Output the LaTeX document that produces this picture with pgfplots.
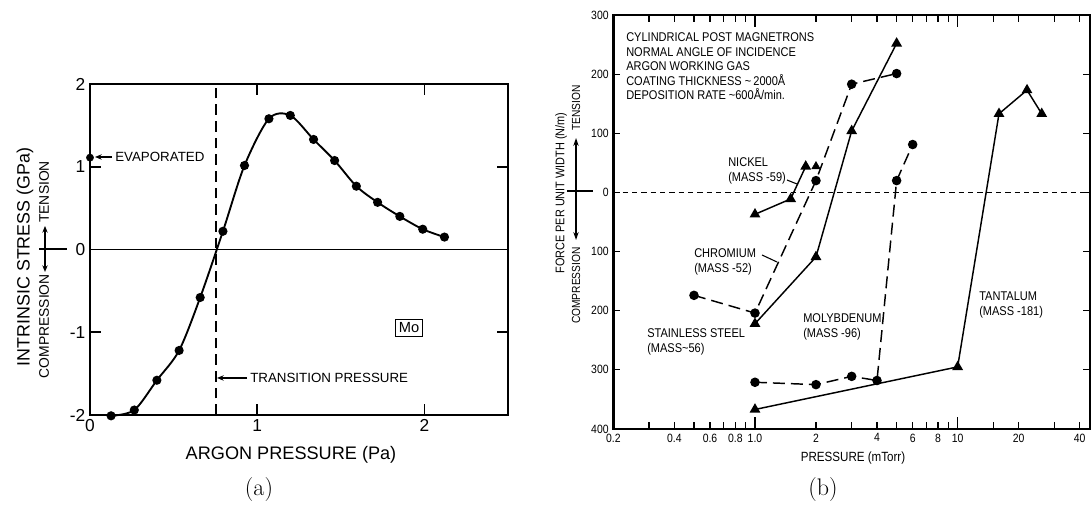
\documentclass[border=0pt]{standalone}
\usepackage{fontspec}
\usepackage{pgfplots}
\pgfplotsset{compat=1.18}
\usetikzlibrary{arrows.meta}
\newfontfamily\hv{Liberation Sans}
\newfontfamily\hvn[FakeStretch=0.87]{Liberation Sans}
\begin{document}
\begin{tikzpicture}
% ---------------- (a) ----------------
\begin{axis}[
  at={(67.5pt,70.5pt)}, anchor=south west, scale only axis,
  width=313.5pt, height=248.25pt,
  xmin=0, xmax=2.5, ymin=-2, ymax=2,
  xtick={0,1,2}, xticklabels={0,1,2},
  ytick={-2,-1,0,1,2}, yticklabels={-2,-1,0,1,2},
  tick align=inside, major tick length=8pt,
  axis line style={line width=1.5pt},
  every tick/.style={black, line width=1.3pt},
  ticklabel style={font=\hv\fontsize{13}{15}\selectfont},
  clip=false,
]
\addplot[black, line width=0.8pt] coordinates {(0,0) (2.5,0)};
\addplot[black, line width=1.2pt, dash pattern=on 8pt off 4.5pt] coordinates {(0.755,-2) (0.755,2)};
\addplot[black, line width=1.4pt, smooth, mark=*, mark size=2.7pt] coordinates {
(0.126,-2.01) (0.265,-1.94) (0.40,-1.58) (0.533,-1.22) (0.659,-0.58) (0.795,0.22)
(0.924,1.015) (1.07,1.58) (1.198,1.62) (1.337,1.33) (1.463,1.075) (1.593,0.765)
(1.72,0.57) (1.853,0.40) (1.99,0.245) (2.12,0.15)};
\addplot[black, only marks, mark=*, mark size=2.7pt] coordinates {(0,1.11)};
\end{axis}
% ---------------- (b) ----------------
\begin{axis}[
  at={(460pt,60pt)}, anchor=south west, scale only axis,
  width=357.5pt, height=310.5pt,
  xmode=log, xmin=0.2, xmax=45, ymin=-400, ymax=300,
  xtick={0.2,0.4,0.6,0.8,1,2,4,6,8,10,20,40},
  xticklabels={0.2,0.4,0.6,0.8,1.0,2,4,6,8,10,20,40},
  minor xtick={0.3,0.5,0.7,0.9,3,5,7,9,15,30},
  extra x ticks={1,10}, extra x tick labels={},
  extra x tick style={major tick length=9pt},
  ytick={-400,-300,-200,-100,0,100,200,300},
  yticklabels={400,300,200,100,0,100,200,300},
  tick align=inside, major tick length=5pt, minor tick length=5pt,
  axis line style={line width=1.8pt},
  every tick/.style={black, line width=0.9pt},
  ticklabel style={font=\hvn\fontsize{9}{10}\selectfont},
  clip=false,
]
\addplot[black, line width=0.8pt, dash pattern=on 4pt off 3pt] coordinates {(0.2,0) (45,0)};
% stainless steel / chromium (dashed, circles)
\addplot[black, line width=1.1pt, dash pattern=on 9pt off 4.5pt, mark=*, mark size=3pt, mark options={solid}]
  coordinates {(0.5,-174) (1,-204) (2,20) (3,183) (5,201)};
% solid triangles
\addplot[black, line width=1.1pt, mark=triangle*, mark size=3.6pt]
  coordinates {(1,-222) (2,-109) (3,104) (5,252)};
% nickel
\addplot[black, line width=1.1pt, mark=triangle*, mark size=3.6pt]
  coordinates {(1,-37) (1.5,-11) (1.78,44)};
\addplot[black, only marks, mark=triangle*, mark size=3.6pt] coordinates {(2,44)};
% molybdenum
\addplot[black, line width=1.1pt, dash pattern=on 9pt off 4.5pt, mark=*, mark size=3pt, mark options={solid}]
  coordinates {(1,-321) (2,-325) (3,-311) (4,-318) (5,20) (6,81)};
% tantalum
\addplot[black, line width=1.1pt, mark=triangle*, mark size=3.6pt]
  coordinates {(1,-367) (10,-295) (16,133) (22,173) (26,133)};
\end{axis}
% ---------------- annotations (pixel coordinates) ----------------
\begin{scope}[x=0.75pt,y=-0.75pt,yshift=381.75pt]
 % (a)
 \node[anchor=west, font=\hv\fontsize{10}{12}\selectfont, inner sep=0pt] at (115,157) {EVAPORATED};
 \draw[line width=0.9pt, -{Stealth[length=5pt,width=4pt]}] (112,157) -- (95,157);
 \node[anchor=west, font=\hv\fontsize{10}{12}\selectfont, inner sep=0pt] at (250,378) {TRANSITION PRESSURE};
 \draw[line width=0.9pt, -{Stealth[length=5pt,width=4pt]}] (247,378) -- (217,378);
 \node[draw, line width=1pt, font=\hv\fontsize{11}{13}\selectfont, inner sep=2.5pt] at (409,328) {Mo};
 \node[font=\hv\fontsize{13.6}{16}\selectfont] at (291,455) {ARGON PRESSURE (Pa)};
 \node[rotate=90, font=\hv\fontsize{13.4}{16}\selectfont] at (25,257) {INTRINSIC STRESS (GPa)};
 \node[rotate=90, anchor=east, inner sep=0pt, font=\hv\fontsize{10.4}{12}\selectfont] at (44,274) {COMPRESSION};
 \node[rotate=90, anchor=west, inner sep=0pt, font=\hv\fontsize{10.4}{12}\selectfont] at (44,223) {TENSION};
 \draw[line width=0.9pt, {Stealth[length=5pt,width=4pt]}-{Stealth[length=5pt,width=4pt]}] (45,226) -- (45,272);
 \draw[line width=0.9pt] (39,249) -- (67,249);
 \node[font=\fontsize{18}{20}\selectfont] at (259,490) {(a)};
 % (b)
 \begin{scope}[every node/.style={anchor=base west, inner sep=0pt, font=\hvn\fontsize{9.5}{11}\selectfont}]
  \node at (626,42) {CYLINDRICAL POST MAGNETRONS};
  \node at (626,56.5) {NORMAL ANGLE OF INCIDENCE};
  \node at (626,71) {ARGON WORKING GAS};
  \node at (626,85.5) {COATING THICKNESS \textasciitilde\,2000Å};
  \node at (626,100) {DEPOSITION RATE \textasciitilde600Å/min.};
  \node at (728,167) {NICKEL};
  \node at (728,181.5) {(MASS -59)};
  \node at (694,258) {CHROMIUM};
  \node at (694,272.5) {(MASS -52)};
  \node at (647,338) {STAINLESS STEEL};
  \node at (647,352.5) {(MASS\textasciitilde56)};
  \node at (803,323) {MOLYBDENUM};
  \node at (803,337.5) {(MASS -96)};
  \node at (979,301) {TANTALUM};
  \node at (979,315.5) {(MASS -181)};
 \end{scope}
 \draw[line width=0.8pt] (787,180) -- (797,184);
 \draw[line width=0.8pt] (762,255) -- (777,262);
 \node[font=\hvn\fontsize{10}{12}\selectfont] at (853,458) {PRESSURE (mTorr)};
 \node[rotate=90, font=\hvn\fontsize{9.4}{11}\selectfont] at (561,193) {FORCE PER UNIT WIDTH (N/m)};
 \node[rotate=90, anchor=east, inner sep=0pt, font=\hvn\fontsize{8.8}{10}\selectfont] at (576,247) {COMPRESSION};
 \node[rotate=90, anchor=west, inner sep=0pt, font=\hvn\fontsize{8.8}{10}\selectfont] at (576,131) {TENSION};
 \draw[line width=0.9pt, {Stealth[length=6pt,width=4pt]}-{Stealth[length=6pt,width=4pt]}] (576,138) -- (576,240);
 \draw[line width=0.9pt] (567,191) -- (593,191);
 \node[font=\fontsize{18}{20}\selectfont] at (823,490) {(b)};
\end{scope}
\pgfresetboundingbox
\path[use as bounding box] (0,0) rectangle (819pt,381.75pt);
\end{tikzpicture}
\end{document}
